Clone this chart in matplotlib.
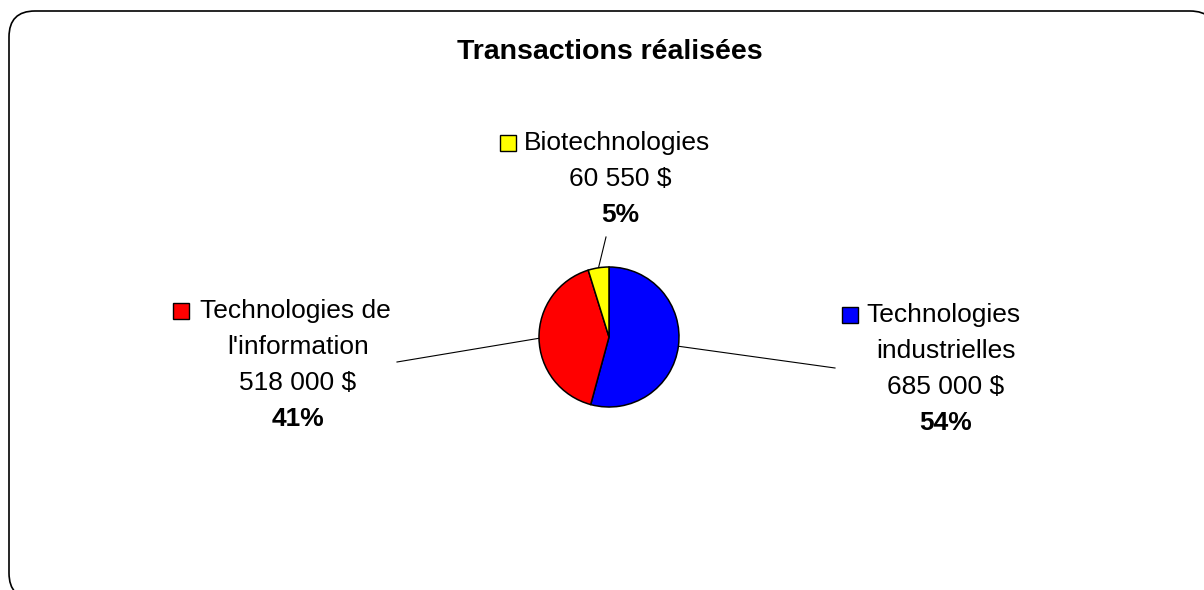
import textwrap
import numpy as np
import matplotlib
matplotlib.use("Agg")
import matplotlib.pyplot as plt
from matplotlib.patches import FancyBboxPatch, Rectangle

plt.rcParams['font.family'] = ['Liberation Sans', 'DejaVu Sans']

title = "Transactions réalisées"
categories = ["Technologies industrielles", "Technologies de l'information", "Biotechnologies"]
values = [685000, 518000, 60550]
colors = ["#0000FF", "#FF0000", "#FFFF00"]

# label layout in pixels: (block center x, first line y, leader end x, leader end y, key x)
label_pos = [
    (946, 315, 835, 368, 850),
    (298, 311, 397, 362, 181),
    (620, 143, 606, 237, 508),
]
line_h = 36

W, H = 1204, 590
fig = plt.figure(figsize=(W / 100, H / 100), dpi=100)

ov = fig.add_axes([0, 0, 1, 1])
ov.set_xlim(0, W)
ov.set_ylim(H, 0)
ov.axis("off")

# rounded chart frame
ov.add_patch(FancyBboxPatch((9, 11), 1207, 588, boxstyle="round,pad=0,rounding_size=26",
                            fc="white", ec="black", lw=1.2))

ov.text(610, 52, title, ha="center", va="center", fontsize=20.5, fontweight="bold")

cx, cy, r = 609, 337, 70
ax = fig.add_axes([(cx - r) / W, (H - cy - r) / H, 2 * r / W, 2 * r / H])
wedges, _ = ax.pie(values, colors=colors, startangle=90, counterclock=False,
                   wedgeprops=dict(edgecolor="black", linewidth=1.1))
ax.set_xlim(-1, 1)
ax.set_ylim(-1, 1)
ax.axis("off")

total = sum(values)
for w, cat, v, col, (bx, by, lx, ly, kx) in zip(wedges, categories, values, colors, label_pos):
    mid = np.deg2rad((w.theta1 + w.theta2) / 2)
    p = ax.transData.transform((np.cos(mid), np.sin(mid)))
    sx, sy = ov.transData.inverted().transform(p)
    ov.plot([sx, lx], [sy, ly], color="black", lw=0.8)

    lines = textwrap.wrap(cat, width=16)
    amount = f"{v:,}".replace(",", " ") + " $"
    pct = f"{round(100 * v / total)}%"
    y = by
    for i, ln in enumerate(lines):
        ov.text(bx - (3 if i == 0 else 0), y, ln, ha="center", va="center", fontsize=19)
        y += line_h
    ov.text(bx, y, amount, ha="center", va="center", fontsize=19)
    y += line_h
    ov.text(bx, y, pct, ha="center", va="center", fontsize=19, fontweight="bold")
    ov.add_patch(Rectangle((kx - 8, by - 8), 16, 16, fc=col, ec="black", lw=1.0))

fig.savefig("out.png", dpi=100)
